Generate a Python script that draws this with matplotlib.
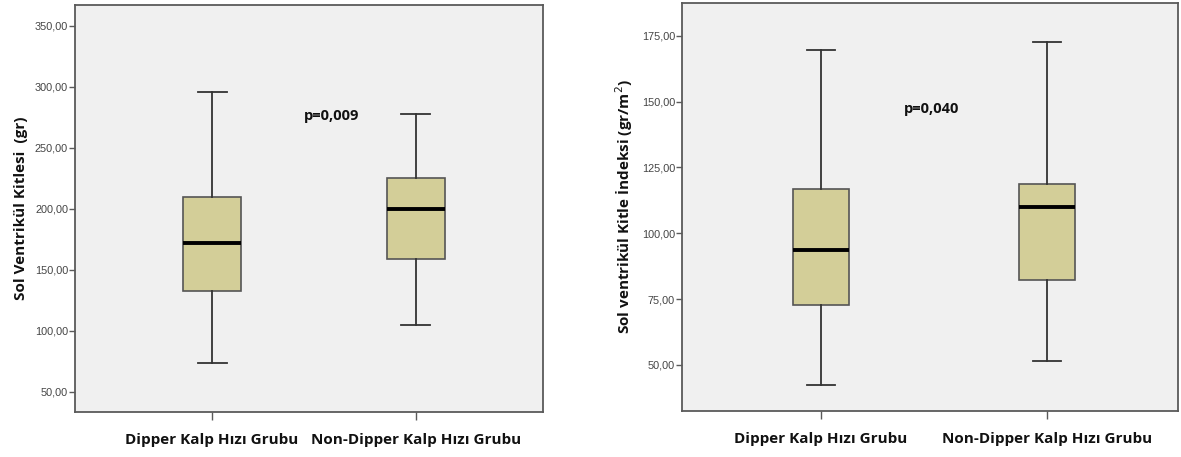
import matplotlib
matplotlib.use("Agg")
import matplotlib.pyplot as plt
from matplotlib.ticker import FuncFormatter

groups = ["Dipper Kalp Hızı Grubu", "Non-Dipper Kalp Hızı Grubu"]

# left panel: Sol Ventrikül Kitlesi (gr)
lvm_low = [74, 105]
lvm_q1 = [133, 159]
lvm_med = [172, 200]
lvm_q3 = [210, 225]
lvm_high = [296, 278]
lvm_ticks = [50, 100, 150, 200, 250, 300, 350]
lvm_p = "p=0,009"

# right panel: Sol ventrikül Kitle İndeksi (gr/m²)
lvmi_low = [42.4, 51.4]
lvmi_q1 = [72.8, 82.2]
lvmi_med = [93.8, 110.0]
lvmi_q3 = [117.0, 118.7]
lvmi_high = [169.8, 172.5]
lvmi_ticks = [50, 75, 100, 125, 150, 175]
lvmi_p = "p=0,040"

BG = "#f0f0f0"
BOX = "#d3ce98"
FRAME = "#5a5a5a"
LBL_FONT = ["Open Sans", "DejaVu Sans"]
TICK_FONT = ["Liberation Sans", "DejaVu Sans"]

comma = FuncFormatter(lambda v, _: ("%.2f" % v).replace(".", ","))


def draw(ax, low, q1, med, q3, high, ticks, ylabel, ylim, xlim, width, capw, ptxt, pxy):
    stats = [dict(whislo=low[i], q1=q1[i], med=med[i], q3=q3[i], whishi=high[i],
                  fliers=[]) for i in range(len(groups))]
    ax.bxp(stats, positions=[1, 2], widths=width, patch_artist=True,
           showfliers=False, capwidths=capw,
           boxprops=dict(facecolor=BOX, edgecolor="#555555", linewidth=1.2),
           medianprops=dict(color="black", linewidth=2.8),
           whiskerprops=dict(color="#333333", linewidth=1.3),
           capprops=dict(color="#333333", linewidth=1.3))
    ax.set_facecolor(BG)
    ax.set_xlim(*xlim)
    ax.set_ylim(*ylim)
    ax.set_yticks(ticks)
    ax.yaxis.set_major_formatter(comma)
    ax.set_xticks([1, 2])
    ax.set_xticklabels(groups, fontfamily=LBL_FONT, fontweight="bold",
                       fontsize=11, color="#111111")
    for lab in ax.get_yticklabels():
        lab.set_fontfamily(TICK_FONT)
    ax.tick_params(axis="y", length=4, width=1, color=FRAME, labelsize=7.8,
                   labelcolor="#444444", pad=1)
    ax.tick_params(axis="x", length=6, width=1, color=FRAME, pad=9)
    for s in ax.spines.values():
        s.set_color(FRAME)
        s.set_linewidth(1.3)
    ax.set_ylabel(ylabel, fontfamily=LBL_FONT, fontweight="bold", fontsize=11,
                  color="#111111", labelpad=5)
    ax.text(pxy[0], pxy[1], ptxt, fontfamily=LBL_FONT, fontweight="bold",
            fontsize=10.5, color="#111111", ha="left", va="center")


fig = plt.figure(figsize=(11.81, 4.57), dpi=100)
ax1 = fig.add_axes([0.0635, 0.0985, 0.3963, 0.8906])
ax2 = fig.add_axes([0.5775, 0.1007, 0.42, 0.8928])

draw(ax1, lvm_low, lvm_q1, lvm_med, lvm_q3, lvm_high, lvm_ticks,
     "Sol Ventrikül Kitlesi  (gr)", (33.6, 367.2), (0.328, 2.623),
     0.28, 0.142, lvm_p, (1.45, 276))
draw(ax2, lvmi_low, lvmi_q1, lvmi_med, lvmi_q3, lvmi_high, lvmi_ticks,
     "Sol ventrikül Kitle İndeksi (gr/m$^2$)", (32.5, 187.5), (0.385, 2.58),
     0.252, 0.128, lvmi_p, (1.365, 147.3))

fig.savefig("out.png", dpi=100)
